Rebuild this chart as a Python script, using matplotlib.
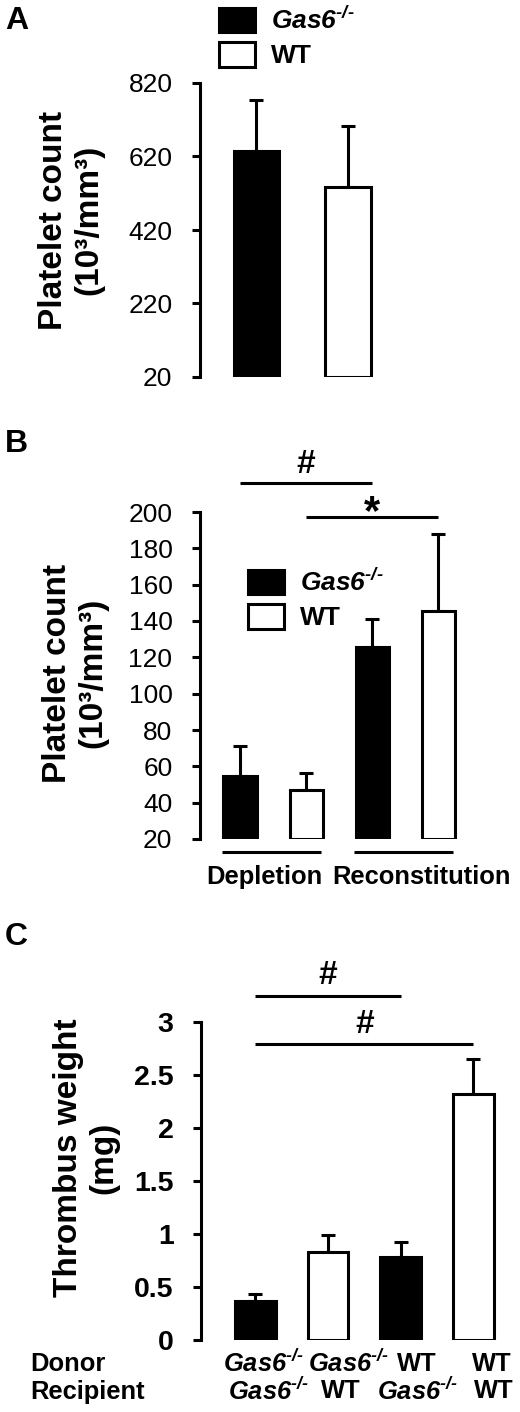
import numpy as np
import matplotlib
matplotlib.use("Agg")
import matplotlib.pyplot as plt
import matplotlib.transforms as mtransforms

plt.rcParams.update({
    "font.family": ["Liberation Sans", "DejaVu Sans"],
    "mathtext.fontset": "custom",
    "mathtext.rm": "Liberation Sans:italic:bold",
    "mathtext.it": "Liberation Sans:italic:bold",
    "mathtext.bf": "Liberation Sans:italic:bold",
    "axes.linewidth": 2.2,
})

GAS6 = r"$Gas6^{\text{-/-}}$"
GROUPS = [GAS6, "WT"]

# ── panel A: platelet count at baseline ─────────────────────────────
a_mean = [635, 538]
a_err = [139, 165]
a_fill = ["black", "white"]
a_ticks = [20, 220, 420, 620, 820]

# ── panel B: depletion / reconstitution ─────────────────────────────
b_mean = [54.7, 47.0, 125.9, 145.5]
b_err = [16.5, 9.3, 15.1, 42.5]
b_fill = ["black", "white", "black", "white"]
b_ticks = [20, 40, 60, 80, 100, 120, 140, 160, 180, 200]
b_groups = ["Depletion", "Reconstitution"]
b_sig = [("#", 0, 2, 216.0, 7.0, 24), ("*", 1, 3, 197.4, -5.0, 30)]

# ── panel C: thrombus weight after transplantation ──────────────────
c_mean = [0.37, 0.83, 0.785, 2.316]
c_err = [0.06, 0.16, 0.135, 0.33]
c_fill = ["black", "white", "black", "white"]
c_ticks = [0, 0.5, 1, 1.5, 2, 2.5, 3]
c_ticklabels = ["0", "0.5", "1", "1.5", "2", "2.5", "3"]
c_donor = [GAS6, GAS6, "WT", "WT"]
c_recip = [GAS6, "WT", GAS6, "WT"]
c_sig = [("#", 0, 2, 3.242, 8.5), ("#", 0, 3, 2.787, 8.0)]
# horizontal nudges (points) of the two label rows under each bar
donor_dx = [6, 15, 11.5, 13.5]
recip_dx = [9.5, 9, 12, 15]

W, H = 520, 1412
fig = plt.figure(figsize=(W / 100, H / 100), dpi=100)
LW = 2.2


def px_axes(x0, y0, x1, y1):
    return fig.add_axes([x0 / W, 1 - y1 / H, (x1 - x0) / W, (y1 - y0) / H])


def style(ax, ticks, labels, ymin, ymax, tsize, tweight):
    for s in ("top", "right", "bottom"):
        ax.spines[s].set_visible(False)
    ax.spines["left"].set_linewidth(LW)
    ax.set_ylim(ymin, ymax)
    ax.set_yticks(ticks)
    ax.set_yticklabels(labels, fontsize=tsize, fontweight=tweight)
    ax.tick_params(axis="y", length=5.8, width=LW, pad=14, direction="out")
    ax.set_xticks([])


def bars(ax, mean, err, fill, width, base):
    x = np.arange(len(mean))
    ax.errorbar(x, mean, yerr=[np.zeros(len(err)), err], fmt="none", ecolor="black",
                elinewidth=LW, capsize=4.7, capthick=LW, zorder=2)
    h = [m - base for m in mean]
    return ax.bar(x, h, bottom=base, width=width, color=fill, edgecolor="black",
                  linewidth=LW, zorder=3)


def legend(ax, bc, x, y):
    handles = [bc.patches[0], bc.patches[1]]
    leg = ax.legend(handles, GROUPS, loc="upper left", bbox_to_anchor=(x / W, 1 - y / H),
                    bbox_transform=fig.transFigure, frameon=False, fontsize=19,
                    handlelength=1.36, handleheight=1.06, handletextpad=0.6,
                    labelspacing=0.3, borderpad=0, borderaxespad=0)
    for t in leg.get_texts():
        t.set_fontweight("bold")


def sig_line(ax, sym, i0, i1, h, off, size=24):
    ax.plot([i0, i1], [h, h], color="black", lw=LW, clip_on=False, solid_capstyle="butt")
    ax.annotate(sym, xy=((i0 + i1) / 2, h), xytext=(0, off), textcoords="offset points",
                ha="center", va="baseline", fontsize=size, fontweight="bold",
                annotation_clip=False)


def ylabel(text, xc, yc):
    fig.text(xc / W, 1 - yc / H, text, rotation=90, ha="center", va="center",
             multialignment="center", fontsize=24, fontweight="bold", linespacing=1.2)


def panel_letter(s, y):
    fig.text(5 / W, 1 - y / H, s, fontsize=23, fontweight="bold", va="center")


# ════════════════ A ════════════════
axA = px_axes(200, 83, 420, 377)
bcA = bars(axA, a_mean, a_err, a_fill, 0.5, 20)
style(axA, a_ticks, [str(t) for t in a_ticks], 20, 820, 19, "normal")
axA.set_xlim(-0.617, 1.787)
legend(axA, bcA, 219, 7)
ylabel("Platelet count\n(10³/mm³)", 71, 220)
panel_letter("A", 21)

# ════════════════ B ════════════════
axB = px_axes(200, 512, 480, 839)
bcB = bars(axB, b_mean, b_err, b_fill, 0.5, 20)
style(axB, b_ticks, [str(t) for t in b_ticks], 20, 200, 19, "normal")
axB.set_xlim(-0.606, 3.636)
legend(axB, bcB, 248, 569)
for sym, i0, i1, h, off, size in b_sig:
    sig_line(axB, sym, i0, i1, h, off, size)
trB = mtransforms.blended_transform_factory(axB.transData, axB.transAxes)
for g, name in enumerate(b_groups):
    xs = [2 * g - 0.27, 2 * g + 1.22]
    axB.plot(xs, [-0.04, -0.04], transform=trB, color="black", lw=LW, clip_on=False,
             solid_capstyle="butt")
axB.annotate(b_groups[0], xy=(1.5, -0.04), xycoords=trB, xytext=(-12, -18),
             textcoords="offset points", ha="right", va="center", fontsize=18.4,
             fontweight="bold", annotation_clip=False)
axB.annotate(b_groups[1], xy=(1.5, -0.04), xycoords=trB, xytext=(-5, -18),
             textcoords="offset points", ha="left", va="center", fontsize=18.4,
             fontweight="bold", annotation_clip=False)
ylabel("Platelet count\n(10³/mm³)", 75, 673)
panel_letter("B", 444)

# ════════════════ C ════════════════
axC = px_axes(201, 1021.7, 517, 1340)
bars(axC, c_mean, c_err, c_fill, 0.56, 0)
style(axC, c_ticks, c_ticklabels, 0, 3, 20.5, "bold")
axC.set_xlim(-0.747, 3.6)
for sym, i0, i1, h, off in c_sig:
    sig_line(axC, sym, i0, i1, h, off)
trC = mtransforms.blended_transform_factory(axC.transData, axC.transAxes)
for i, (d, r) in enumerate(zip(c_donor, c_recip)):
    axC.annotate(d, xy=(i, 0), xycoords=trC, xytext=(donor_dx[i], -17),
                 textcoords="offset points", ha="center", va="center", fontsize=18.4,
                 fontweight="bold", annotation_clip=False)
    axC.annotate(r, xy=(i, 0), xycoords=trC, xytext=(recip_dx[i], -37),
                 textcoords="offset points", ha="center", va="center", fontsize=18.4,
                 fontweight="bold", annotation_clip=False)
fig.text(30 / W, 1 - 1364 / H, "Donor", fontsize=18.4, fontweight="bold", va="center")
fig.text(30 / W, 1 - 1392 / H, "Recipient", fontsize=18.4, fontweight="bold", va="center")
ylabel("Thrombus weight\n(mg)", 86, 1158)
panel_letter("C", 937)

fig.savefig("out.png", dpi=100)
